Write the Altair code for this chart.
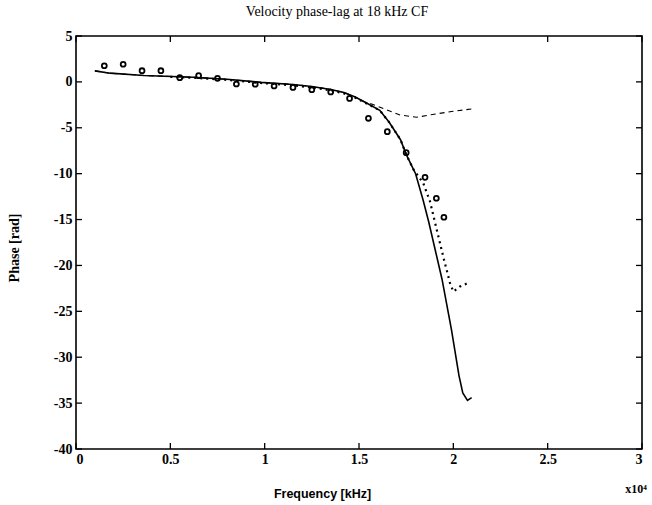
import altair as alt
import pandas as pd

# Frequencies in Hz, phase in rad
model_f = [1000, 1800, 3600, 6200, 8000, 9800, 11500, 12500, 13500, 14200, 14800,
           15400, 16100, 16600, 17200, 17500, 18000, 18400, 18700, 19400, 19900,
           20300, 20500, 20750, 20970]
model_p = [1.2, 0.95, 0.7, 0.5, 0.28, -0.05, -0.28, -0.5, -0.82, -1.15, -1.65,
           -2.3, -3.1, -4.4, -6.3, -7.9, -10.0, -12.9, -15.3, -21.5, -27.0,
           -32.0, -33.9, -34.7, -34.4]

dashed_f = [1000, 1800, 3600, 6200, 8000, 9800, 11500, 12500, 13500, 14200, 14800,
            15400, 15670, 16470, 17170, 18050, 18760, 19820, 20970]
dashed_p = [1.2, 0.95, 0.7, 0.5, 0.28, -0.05, -0.28, -0.5, -0.82, -1.15, -1.65,
            -2.3, -2.4, -3.06, -3.6, -3.86, -3.6, -3.25, -2.95]

dotted_f = [5000, 6200, 8000, 9800, 11500, 12500, 13500, 14200, 14800, 15400, 16100,
            16600, 17200, 17500, 17900, 18400, 18760, 19120, 19460, 19820, 20000,
            20350, 20790]
dotted_p = [0.55, 0.45, 0.22, -0.12, -0.38, -0.6, -0.92, -1.25, -1.72, -2.35, -3.1,
            -4.4, -6.3, -7.9, -9.6, -11.0, -13.0, -16.1, -19.0, -21.9, -22.85,
            -22.3, -21.9]

meas_f = [1500, 2500, 3500, 4500, 5500, 6500, 7500, 8500, 9500, 10500, 11500,
          12500, 13500, 14500, 15500, 16500, 17500, 18500, 19100, 19500]
meas_p = [1.76, 1.92, 1.22, 1.22, 0.46, 0.68, 0.39, -0.23, -0.26, -0.45, -0.6,
          -0.85, -1.1, -1.8, -3.97, -5.42, -7.71, -10.4, -12.68, -14.75]

x_ticks = [0, 5000, 10000, 15000, 20000, 25000, 30000]
y_ticks = [-40, -35, -30, -25, -20, -15, -10, -5, 0, 5]

W, H = 566, 413
serif = "Liberation Serif"

xscale = alt.Scale(domain=[0, 30000], nice=False, zero=False)
yscale = alt.Scale(domain=[-40, 5], nice=False, zero=False)

X = alt.X("f:Q", scale=xscale,
          axis=alt.Axis(values=x_ticks, labelExpr="'' + datum.value / 10000",
                        grid=False, ticks=False, domain=False,
                        labelFont=serif, labelFontSize=14, labelFontWeight="bold",
                        labelColor="black", labelPadding=3,
                        title="Frequency [kHz]", titleFont="Liberation Sans",
                        titleFontSize=12.5, titleFontWeight="bold", titleColor="black",
                        titleX=246, titleY=38))
Y = alt.Y("p:Q", scale=yscale,
          axis=alt.Axis(values=y_ticks, labelExpr="'' + datum.value",
                        grid=False, ticks=False, domain=False,
                        labelFont=serif, labelFontSize=14, labelFontWeight="bold",
                        labelColor="black", labelPadding=4,
                        title="Phase [rad]", titleFont=serif, titleFontSize=14,
                        titleFontWeight="bold", titleColor="black",
                        titleX=-55, titleY=H / 2 + 5))

df_model = pd.DataFrame({"f": model_f, "p": model_p})
df_dash = pd.DataFrame({"f": dashed_f, "p": dashed_p})
df_dot = pd.DataFrame({"f": dotted_f, "p": dotted_p})
df_meas = pd.DataFrame({"f": meas_f, "p": meas_p})
df_xt = pd.DataFrame({"f": x_ticks})
df_yt = pd.DataFrame({"p": y_ticks})

solid = alt.Chart(df_model).mark_line(color="black", strokeWidth=1.6).encode(x=X, y=Y)
dashed = alt.Chart(df_dash).mark_line(color="black", strokeWidth=1.1,
                                      strokeDash=[5, 4]).encode(x=X, y=Y)
dotted = alt.Chart(df_dot).mark_line(color="black", strokeWidth=2.2,
                                     strokeDash=[2, 4]).encode(x=X, y=Y)
circles = alt.Chart(df_meas).mark_point(shape="circle", filled=False, color="black",
                                        size=24, strokeWidth=1.8, opacity=1).encode(x=X, y=Y)

tick_len = 6
left_t = alt.Chart(df_yt).mark_rule(color="black", strokeWidth=1.3).encode(
    y=Y, x=alt.value(0), x2=alt.value(tick_len))
right_t = alt.Chart(df_yt).mark_rule(color="black", strokeWidth=1.3).encode(
    y=Y, x=alt.value(W - tick_len), x2=alt.value(W))
bottom_t = alt.Chart(df_xt).mark_rule(color="black", strokeWidth=1.3).encode(
    x=X, y=alt.value(H - tick_len), y2=alt.value(H))
top_t = alt.Chart(df_xt).mark_rule(color="black", strokeWidth=1.3).encode(
    x=X, y=alt.value(0), y2=alt.value(tick_len))

exp_label = alt.Chart(pd.DataFrame({"t": ["x10\u2074"]})).mark_text(
    font=serif, fontSize=12, fontWeight="bold", color="black", align="center",
    baseline="middle").encode(text="t:N", x=alt.value(W - 6), y=alt.value(H + 40))

chart = alt.layer(solid, dashed, dotted, circles, left_t, right_t, bottom_t, top_t,
                  exp_label).properties(
    width=W, height=H,
    background="white",
    title=alt.TitleParams("Velocity phase-lag at 18 kHz CF", font=serif, fontSize=14,
                          fontWeight="normal", color="black", offset=10, anchor="middle",
                          dx=-22),
    autosize=alt.AutoSizeParams(type="none"),
    padding={"left": 76, "top": 36, "right": 10, "bottom": 56},
).configure_view(stroke="black", strokeWidth=1.6)

chart.save("out.html", embed_options={"renderer": "svg", "actions": False})
